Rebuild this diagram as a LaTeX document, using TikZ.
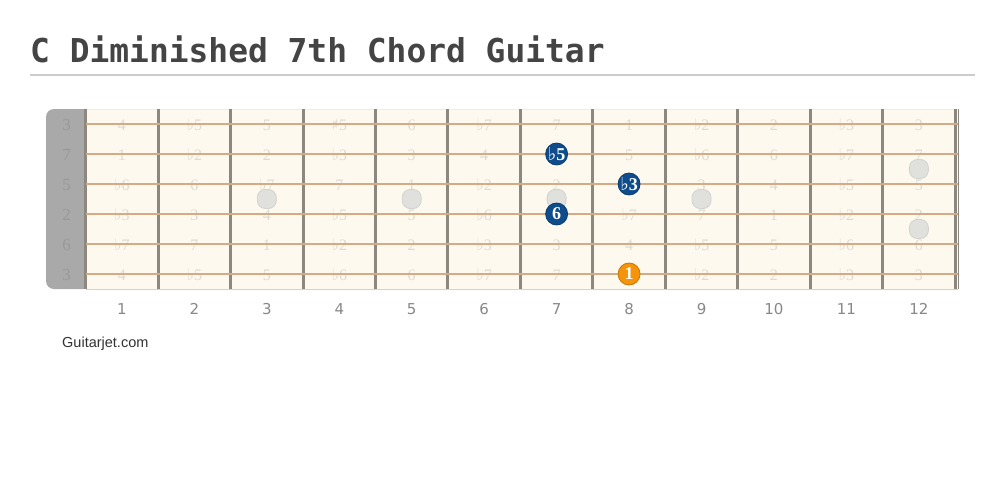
\documentclass[tikz,border=0pt]{standalone}
\usepackage{fontspec}
\setmainfont{Liberation Serif}
\newfontfamily\titlefont{DejaVu Sans Mono}
\newfontfamily\symfont{DejaVu Sans}
\newfontfamily\labfont{DejaVu Sans}
\newfontfamily\webfont{Liberation Sans}
\newcommand\mfl{{\symfont\char"266D}}
\newcommand\msh{{\symfont\char"266F}}
\definecolor{titlegray}{HTML}{444444}
\definecolor{rulegray}{HTML}{CCCCCC}
\definecolor{board}{HTML}{FEF9EE}
\definecolor{fretc}{HTML}{8C8880}
\definecolor{stringc}{HTML}{D4AB85}
\definecolor{faintc}{HTML}{DCDAD4}
\definecolor{nutgray}{HTML}{A9A9A9}
\definecolor{nuttext}{HTML}{999999}
\definecolor{dotfill}{HTML}{E0E0DD}
\definecolor{dotdraw}{HTML}{D2D2CF}
\definecolor{hlb}{HTML}{0E4C8C}
\definecolor{hlo}{HTML}{F5930A}
\definecolor{numgray}{HTML}{888888}
\definecolor{webc}{HTML}{333333}
\tikzset{
  fretline/.style={line width=3pt, draw=fretc},
  stringline/.style={line width=2.5pt, draw=stringc},
  faint/.style={inner sep=0pt, text=faintc, font=\fontsize{16}{16}\selectfont},
  nutlab/.style={inner sep=0pt, text=nuttext, font=\fontsize{17}{17}\selectfont},
  inlay/.style={rectangle, rounded corners=8pt, minimum width=19pt, minimum height=19pt, inner sep=0pt, fill=dotfill, draw=dotdraw, line width=0.8pt},
  hlblue/.style={circle, minimum size=22pt, inner sep=0pt, fill=hlb, draw=hlb!80!black, line width=0.8pt, text=white, font=\bfseries\fontsize{18}{18}\selectfont},
  hlorange/.style={circle, minimum size=22pt, inner sep=0pt, fill=hlo, draw=hlo!80!black, line width=0.8pt, text=white, font=\bfseries\fontsize{18}{18}\selectfont},
  fretnum/.style={inner sep=0pt, text=numgray, font=\labfont\fontsize{15}{15}\selectfont},
}
\begin{document}
\begin{tikzpicture}[x=1pt,y=-1pt]
\useasboundingbox (0,0) rectangle (1005,488);
\fill[white] (0,0) rectangle (1005,488);
% title
\node[anchor=base west, inner sep=0pt, text=titlegray, font=\titlefont\bfseries\fontsize{32.9}{33}\selectfont] (title) at (30,62) {C Diminished 7th Chord Guitar};
\coordinate (ruleL) at (30,75);
\coordinate (ruleR) at (975,75);
\draw[rulegray, line width=1.5pt] (ruleL) -- (ruleR);
% nut and board
\fill[nutgray, rounded corners=8pt] (46,109) rectangle (92,289);
\fill[board] (85.7,109) rectangle (958,289);
\draw[line width=1pt, draw=gray!15] (85.7,109) -- (958,109);
\draw[line width=1pt, draw=gray!35] (85.7,289.5) -- (958,289.5);
% faint note labels
\foreach \row [count=\s] in {
 {4,\mfl5,5,\msh5,6,\mfl7,7,1,\mfl2,2,\mfl3,3},
 {1,\mfl2,2,\mfl3,3,4,\mfl5,5,\mfl6,6,\mfl7,7},
 {\mfl6,6,\mfl7,7,1,\mfl2,2,\mfl3,3,4,\mfl5,5},
 {\mfl3,3,4,\mfl5,5,\mfl6,6,\mfl7,7,1,\mfl2,2},
 {\mfl7,7,1,\mfl2,2,\mfl3,3,4,\mfl5,5,\mfl6,6},
 {4,\mfl5,5,\mfl6,6,\mfl7,7,1,\mfl2,2,\mfl3,3}}{
  \foreach \t [count=\f] in \row {
    \node[faint] (n\s-\f) at ({85.7+72.45*(\f-0.5)},{125+30*(\s-1)}) {\t};
  }
}
% frets
\foreach \i in {0,...,12} {
  \draw[fretline] ({85.7+72.45*\i},109) -- ++(0,180);
}
\draw[line width=1.5pt, draw=fretc] (958.5,109) -- (958.5,289);
% strings
\foreach \s in {0,...,5} {
  \draw[stringline] (85.7,{124+30*\s}) -- (958,{124+30*\s});
}
% nut labels
\foreach \l [count=\s] in {3,7,5,2,6,3} {
  \node[nutlab] (sl\s) at (66.5,{125+30*(\s-1)}) {\l};
}
% inlays
\foreach \f/\yy [count=\k] in {3/199,5/199,7/199,9/199,12/169,12/229} {
  \node[inlay] (dot\k) at ({85.7+72.45*(\f-0.5)},\yy) {};
}
% highlighted chord tones
\node[hlblue] (h5) at ({85.7+72.45*6.5},154) {\mfl5};
\node[hlblue] (h3) at ({85.7+72.45*7.5},184) {\mfl3};
\node[hlblue] (h6) at ({85.7+72.45*6.5},214) {6};
\node[hlorange] (h1) at ({85.7+72.45*7.5},274) {1};
% fret numbers
\foreach \f in {1,...,12} {
  \node[fretnum] (fn\f) at ({85.7+72.45*(\f-0.5)},309) {\f};
}
\node[anchor=west, inner sep=0pt, text=webc, font=\webfont\fontsize{14.5}{15}\selectfont] (brand) at (62,344) {Guitarjet.com};
\end{tikzpicture}
\end{document}
